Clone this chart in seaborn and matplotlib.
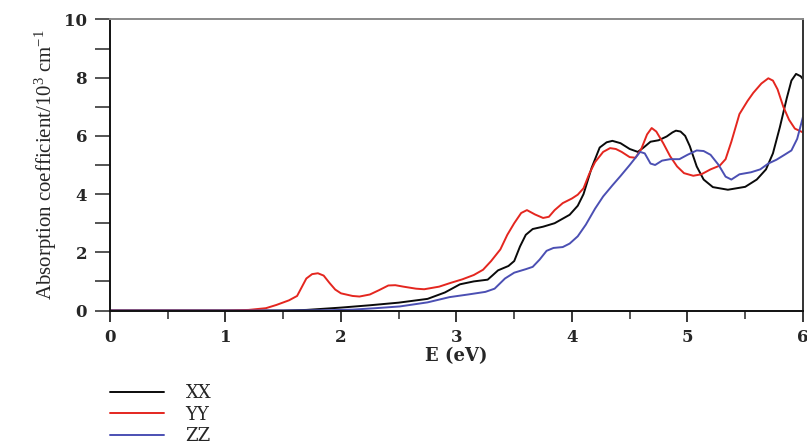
import matplotlib
matplotlib.use("Agg")
import matplotlib.pyplot as plt
from matplotlib.ticker import MultipleLocator
import seaborn as sns
import pandas as pd

# Absorption spectra along the three polarisations
e_xx = [0.0, 1.0, 1.5, 1.7, 2.0, 2.25, 2.5, 2.75, 2.9, 3.03, 3.15, 3.27, 3.31, 3.36, 3.45, 3.5,
        3.55, 3.6, 3.66, 3.75, 3.85, 3.98, 4.05, 4.1, 4.17, 4.24, 4.3, 4.35, 4.42, 4.5, 4.57,
        4.62, 4.68, 4.75, 4.82, 4.87, 4.9, 4.94, 4.98, 5.02, 5.08, 5.14, 5.22, 5.35, 5.5, 5.6,
        5.68, 5.74, 5.8, 5.86, 5.9, 5.94, 5.98, 6.0]
a_xx = [0.0, 0.0, 0.0, 0.02, 0.1, 0.18, 0.27, 0.4, 0.62, 0.9, 1.0, 1.06, 1.2, 1.38, 1.53, 1.7,
        2.2, 2.6, 2.8, 2.88, 3.0, 3.29, 3.6, 4.0, 4.9, 5.6, 5.78, 5.83, 5.75, 5.55, 5.45,
        5.6, 5.8, 5.85, 5.98, 6.12, 6.18, 6.15, 6.0, 5.65, 4.95, 4.5, 4.24, 4.15, 4.25, 4.5,
        4.85, 5.4, 6.3, 7.3, 7.9, 8.13, 8.05, 7.95]

e_yy = [0.0, 1.0, 1.2, 1.35, 1.44, 1.55, 1.62, 1.7, 1.75, 1.8, 1.85, 1.9, 1.95, 2.0, 2.1,
        2.16, 2.25, 2.33, 2.41, 2.47, 2.54, 2.65, 2.72, 2.85, 2.95, 3.05, 3.15, 3.23, 3.3,
        3.38, 3.44, 3.5, 3.56, 3.61, 3.68, 3.75, 3.8, 3.85, 3.92, 4.0, 4.05, 4.1, 4.15, 4.2,
        4.27, 4.33, 4.38, 4.43, 4.5, 4.55, 4.6, 4.65, 4.69, 4.73, 4.79, 4.85, 4.91, 4.97,
        5.05, 5.12, 5.2, 5.28, 5.33, 5.38, 5.45, 5.52, 5.57, 5.64, 5.7, 5.74, 5.78, 5.83,
        5.88, 5.93, 6.0]
a_yy = [0.0, 0.0, 0.02, 0.08, 0.19, 0.35, 0.5, 1.1, 1.25, 1.28, 1.2, 0.95, 0.72, 0.59, 0.5,
        0.48, 0.55, 0.7, 0.86, 0.87, 0.82, 0.75, 0.73, 0.82, 0.95, 1.07, 1.22, 1.4, 1.7,
        2.1, 2.6, 3.0, 3.35, 3.45, 3.3, 3.18, 3.22, 3.45, 3.69, 3.85, 3.98, 4.2, 4.7, 5.1,
        5.45, 5.58, 5.55, 5.45, 5.27, 5.25, 5.55, 6.05, 6.27, 6.15, 5.75, 5.3, 4.95, 4.72,
        4.63, 4.68, 4.85, 4.98, 5.2, 5.8, 6.75, 7.2, 7.48, 7.8, 7.98, 7.9, 7.6, 7.0,
        6.55, 6.25, 6.12]

e_zz = [0.0, 1.5, 1.9, 2.1, 2.3, 2.51, 2.75, 2.94, 3.1, 3.25, 3.33, 3.42, 3.5, 3.6, 3.66,
        3.72, 3.78, 3.84, 3.92, 3.98, 4.05, 4.12, 4.2, 4.27, 4.35, 4.42, 4.5, 4.59, 4.63,
        4.68, 4.72, 4.78, 4.85, 4.93, 5.0, 5.08, 5.14, 5.2, 5.27, 5.33, 5.38, 5.45, 5.55,
        5.63, 5.7, 5.77, 5.84, 5.9, 5.95, 6.0]
a_zz = [0.0, 0.0, 0.01, 0.03, 0.08, 0.14, 0.28, 0.46, 0.55, 0.64, 0.75, 1.1, 1.3, 1.42, 1.5,
        1.75, 2.05, 2.15, 2.18, 2.3, 2.55, 2.95, 3.5, 3.92, 4.3, 4.62, 5.0, 5.45, 5.4,
        5.05, 5.0, 5.15, 5.2, 5.2, 5.35, 5.5, 5.48, 5.35, 5.0, 4.6, 4.5, 4.68, 4.75,
        4.85, 5.05, 5.18, 5.35, 5.5, 5.9, 6.65]

labels = ["XX", "YY", "ZZ"]
colors = ["#0a0a0a", "#e4261f", "#4b4fb3"]

df = pd.concat([
    pd.DataFrame({"E": e_xx, "alpha": a_xx, "pol": labels[0]}),
    pd.DataFrame({"E": e_yy, "alpha": a_yy, "pol": labels[1]}),
    pd.DataFrame({"E": e_zz, "alpha": a_zz, "pol": labels[2]}),
], ignore_index=True)

sns.set_style("white")
plt.rcParams["font.family"] = ["DejaVu Serif"]
plt.rcParams["mathtext.fontset"] = "custom"
plt.rcParams["mathtext.rm"] = "Liberation Serif"
plt.rcParams["mathtext.it"] = "Liberation Serif:italic"

fig = plt.figure(figsize=(8.07, 4.46), dpi=100)
ax = fig.add_axes([0.1363, 0.3038, 0.8587, 0.6525])

sns.lineplot(data=df, x="E", y="alpha", hue="pol", palette=dict(zip(labels, colors)),
             linewidth=1.4, sort=False, estimator=None, ax=ax, legend=False)
for line in ax.get_lines():
    line.set_solid_joinstyle("round")

ax.set_xlim(0, 6)
ax.set_ylim(0, 10)
ax.xaxis.set_major_locator(MultipleLocator(1))
ax.xaxis.set_minor_locator(MultipleLocator(0.5))
ax.yaxis.set_major_locator(MultipleLocator(2))
ax.yaxis.set_minor_locator(MultipleLocator(1))

ax.tick_params(axis="x", which="major", direction="out", length=8, width=1.3,
               labelsize=12, pad=5, bottom=True)
ax.tick_params(axis="x", which="minor", direction="out", length=6, width=1.1, bottom=True)
ax.tick_params(axis="y", which="both", direction="out", length=10.5, width=1.1,
               labelsize=12, pad=6, left=True)
for lab in ax.get_xticklabels() + ax.get_yticklabels():
    lab.set_fontweight("bold")

for side in ["left", "bottom"]:
    ax.spines[side].set_color("#111111")
    ax.spines[side].set_linewidth(1.4)
ax.spines["right"].set_color("#333333")
ax.spines["right"].set_linewidth(1.4)
ax.spines["top"].set_color("#8a8a8a")
ax.spines["top"].set_linewidth(1.4)

ax.set_xlabel("E (eV)", fontsize=13, fontweight="bold", labelpad=1)
ax.set_ylabel("Absorption coefficient/10$^3$ cm$^{-1}$", fontsize=15,
              family="Liberation Serif", labelpad=4)

handles = [plt.Line2D([], [], color=c, linewidth=1.4) for c in colors]
fig.legend(handles, labels, loc="upper left", bbox_to_anchor=(0.136, 0.138),
           frameon=False, fontsize=13, handlelength=3.0, handletextpad=1.2,
           labelspacing=0.18, borderpad=0, borderaxespad=0)

fig.savefig("out.png", dpi=100)
